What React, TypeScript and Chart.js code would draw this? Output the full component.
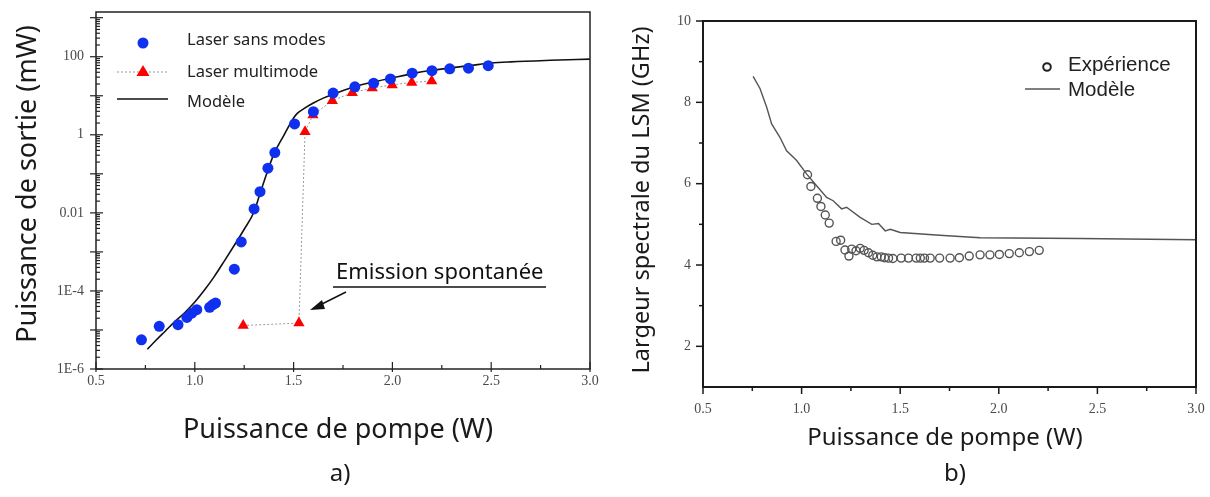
import React, { useEffect, useRef } from "react";
import { Chart, registerables } from "chart.js";
Chart.register(...registerables);

// ---------- Chart a) data ----------
const blueX = [0.73, 0.82, 0.915, 0.96, 0.985, 1.01, 1.075, 1.09, 1.105, 1.2, 1.235, 1.3, 1.33, 1.37, 1.405, 1.505, 1.6, 1.7, 1.81, 1.905, 1.99, 2.1, 2.2, 2.29, 2.385, 2.485];
const blueY = [5.6e-6, 1.24e-5, 1.37e-5, 2.1e-5, 2.7e-5, 3.3e-5, 3.8e-5, 4.4e-5, 4.9e-5, 3.6e-4, 1.8e-3, 0.0126, 0.035, 0.14, 0.35, 1.9, 3.9, 11.7, 17, 21, 27, 38, 44, 49, 51, 59];
const redX = [1.245, 1.527, 1.558, 1.598, 1.696, 1.797, 1.898, 1.999, 2.098, 2.199];
const redY = [1.3e-5, 1.5e-5, 1.2, 3.2, 7.5, 12, 15.8, 19, 22, 24];
const modelAX = [0.76, 0.8, 0.85, 0.9, 0.95, 1.0, 1.05, 1.1, 1.15, 1.2, 1.25, 1.3, 1.325, 1.35, 1.4, 1.45, 1.5, 1.52, 1.55, 1.6, 1.65, 1.7, 1.8, 1.9, 2.0, 2.1, 2.2, 2.3, 2.4, 2.5, 2.6, 2.8, 3.0];
const modelAY = [3.2e-6, 5.2e-6, 9.3e-6, 1.66e-5, 2.8e-5, 5.2e-5, 1.07e-4, 2.4e-4, 5.9e-4, 1.48e-3, 3.8e-3, 1.07e-2, 0.026, 0.063, 0.32, 0.95, 2.7, 3.6, 4.6, 6.5, 8.7, 11, 16.6, 22.4, 28.8, 37, 45, 52, 60, 69, 74, 81, 87];
const xTickValues = [0.5, 1.0, 1.5, 2.0, 2.5, 3.0];
const logTickValues = [1e-6, 1e-4, 0.01, 1, 100];
const logTickLabels = ["1E-6", "1E-4", "0.01", "1", "100"];

// ---------- Chart b) data ----------
const expX = [1.03, 1.047, 1.08, 1.098, 1.12, 1.14, 1.175, 1.198, 1.22, 1.24, 1.254, 1.276, 1.297, 1.317, 1.339, 1.361, 1.382, 1.404, 1.421, 1.441, 1.463, 1.505, 1.542, 1.581, 1.602, 1.623, 1.652, 1.7, 1.753, 1.8, 1.85, 1.905, 1.955, 2.003, 2.053, 2.104, 2.155, 2.205];
const expY = [6.22, 5.93, 5.64, 5.44, 5.23, 5.03, 4.58, 4.61, 4.37, 4.22, 4.39, 4.35, 4.41, 4.36, 4.3, 4.24, 4.2, 4.2, 4.18, 4.17, 4.16, 4.17, 4.17, 4.17, 4.17, 4.17, 4.17, 4.17, 4.17, 4.18, 4.22, 4.25, 4.25, 4.26, 4.28, 4.3, 4.33, 4.36];
const modelBX = [0.754, 0.789, 0.823, 0.848, 0.89, 0.924, 0.975, 1.025, 1.076, 1.127, 1.16, 1.203, 1.228, 1.297, 1.356, 1.39, 1.424, 1.45, 1.5, 1.7, 1.905, 2.41, 3.0];
const modelBY = [8.64, 8.34, 7.88, 7.47, 7.14, 6.81, 6.57, 6.24, 5.95, 5.66, 5.58, 5.38, 5.42, 5.17, 5.0, 5.02, 4.84, 4.88, 4.8, 4.73, 4.67, 4.65, 4.62];
const linTickValues = [2, 4, 6, 8, 10];

const zip = (xs: number[], ys: number[]) => xs.map((x, i) => ({ x, y: ys[i] }));

const SANS = '"Noto Sans", "DejaVu Sans", sans-serif';
const SERIF = '"Liberation Serif", "DejaVu Serif", serif';
const TICK_COLOR = "#4a4a4a";

function text(ctx: CanvasRenderingContext2D, s: string, x: number, y: number, font: string, color: string, align: CanvasTextAlign = "left", rot = 0) {
  ctx.save();
  ctx.translate(x, y);
  if (rot) ctx.rotate(rot);
  ctx.font = font;
  ctx.fillStyle = color;
  ctx.textAlign = align;
  ctx.textBaseline = "middle";
  ctx.fillText(s, 0, 0);
  ctx.restore();
}

function line(ctx: CanvasRenderingContext2D, x1: number, y1: number, x2: number, y2: number) {
  ctx.beginPath();
  ctx.moveTo(x1, y1);
  ctx.lineTo(x2, y2);
  ctx.stroke();
}

const zeroPad = (s: any) => {
  s.paddingTop = 0;
  s.paddingBottom = 0;
  s.paddingLeft = 0;
  s.paddingRight = 0;
};

const decorA = {
  id: "decorA",
  afterDraw(chart: any) {
    const ctx: CanvasRenderingContext2D = chart.ctx;
    const { left, right, top, bottom } = chart.chartArea;
    const xs = chart.scales.x;
    const ys = chart.scales.y;
    ctx.save();
    ctx.strokeStyle = "#222";
    ctx.lineWidth = 1.5;
    ctx.strokeRect(left, top, right - left, bottom - top);
    ctx.lineWidth = 1.2;
    for (let i = 0; i <= 10; i++) {
      const v = 0.5 + i * 0.25;
      const px = xs.getPixelForValue(v);
      const major = i % 2 === 0;
      line(ctx, px, bottom - (major ? 7 : 4), px, bottom + (major ? 3 : 0));
    }
    for (let e = -6; e <= 3; e++) {
      for (let k = 1; k <= 9; k++) {
        const v = k * Math.pow(10, e);
        if (v > ys.max * 1.0001 || v < ys.min * 0.9999) continue;
        const py = ys.getPixelForValue(v);
        if (k === 1) line(ctx, left - 6, py, left + 7, py);
        else line(ctx, left, py, left + 4, py);
      }
    }
    // titles
    text(ctx, "Puissance de sortie (mW)", 28, 184, `27px ${SANS}`, "#1a1a1a", "center", -Math.PI / 2);
    text(ctx, "Puissance de pompe (W)", 338, 430, `27px ${SANS}`, "#1a1a1a", "center");
    text(ctx, "a)", 340, 474, `24px ${SANS}`, "#1a1a1a", "center");
    // legend
    ctx.fillStyle = "#1030f0";
    ctx.beginPath();
    ctx.arc(143, 43, 5.5, 0, Math.PI * 2);
    ctx.fill();
    text(ctx, "Laser sans modes", 187, 40, `16.5px ${SANS}`, "#222");
    ctx.strokeStyle = "#9a9a9a";
    ctx.lineWidth = 1;
    ctx.setLineDash([2, 2]);
    line(ctx, 117, 72, 168, 72);
    ctx.setLineDash([]);
    ctx.fillStyle = "#f00";
    ctx.beginPath();
    ctx.moveTo(143, 65);
    ctx.lineTo(149.5, 76);
    ctx.lineTo(136.5, 76);
    ctx.closePath();
    ctx.fill();
    text(ctx, "Laser multimode", 187, 72, `16.5px ${SANS}`, "#222");
    ctx.strokeStyle = "#111";
    ctx.lineWidth = 1.6;
    line(ctx, 117, 99, 168, 99);
    text(ctx, "Modèle", 187, 102, `16.5px ${SANS}`, "#222");
    // annotation
    text(ctx, "Emission spontanée", 336, 273, `22px ${SANS}`, "#111");
    ctx.strokeStyle = "#111";
    ctx.lineWidth = 1.5;
    line(ctx, 333, 287, 546, 287);
    line(ctx, 346, 292, 318, 306);
    ctx.fillStyle = "#111";
    ctx.beginPath();
    ctx.moveTo(310, 310);
    ctx.lineTo(322, 300);
    ctx.lineTo(325, 309);
    ctx.closePath();
    ctx.fill();
    ctx.restore();
  },
};

const decorB = {
  id: "decorB",
  afterDraw(chart: any) {
    const ctx: CanvasRenderingContext2D = chart.ctx;
    const { left, right, top, bottom } = chart.chartArea;
    const xs = chart.scales.x;
    const ys = chart.scales.y;
    ctx.save();
    ctx.strokeStyle = "#1a1a1a";
    ctx.lineWidth = 2;
    ctx.strokeRect(left, top, right - left, bottom - top);
    ctx.lineWidth = 1.5;
    for (let i = 0; i <= 10; i++) {
      const v = 0.5 + i * 0.25;
      const px = xs.getPixelForValue(v);
      const major = i % 2 === 0;
      line(ctx, px, bottom, px, bottom + (major ? 7 : 4));
    }
    for (let v = 2; v <= 10; v++) {
      const py = ys.getPixelForValue(v);
      const major = v % 2 === 0;
      line(ctx, left - (major ? 7 : 4), py, left, py);
    }
    text(ctx, "Largeur spectrale du LSM (GHz)", 37, 200, `23.5px ${SANS}`, "#1a1a1a", "center", -Math.PI / 2);
    text(ctx, "Puissance de pompe (W)", 340, 438, `24px ${SANS}`, "#1a1a1a", "center");
    text(ctx, "b)", 350, 474, `24px ${SANS}`, "#1a1a1a", "center");
    // legend
    ctx.strokeStyle = "#222";
    ctx.lineWidth = 2;
    ctx.beginPath();
    ctx.arc(442, 67, 3.8, 0, Math.PI * 2);
    ctx.stroke();
    text(ctx, "Expérience", 463, 65, `20.5px "Liberation Sans", Arial, sans-serif`, "#222");
    ctx.strokeStyle = "#555";
    ctx.lineWidth = 1.5;
    line(ctx, 420, 89, 455, 89);
    text(ctx, "Modèle", 463, 90, `20.5px "Liberation Sans", Arial, sans-serif`, "#222");
    ctx.restore();
  },
};

function useChart(ref: React.RefObject<HTMLCanvasElement>, makeConfig: () => any) {
  useEffect(() => {
    if (!ref.current) return;
    const chart = new Chart(ref.current, makeConfig());
    return () => chart.destroy();
  }, []);
}

const configA = () => ({
  type: "scatter",
  data: {
    datasets: [
      {
        label: "Laser sans modes",
        data: zip(blueX, blueY),
        pointStyle: "circle",
        pointRadius: 5.5,
        backgroundColor: "#1030f0",
        borderColor: "#1030f0",
        borderWidth: 0,
        order: 1,
      },
      {
        label: "Laser multimode",
        data: zip(redX, redY),
        showLine: true,
        borderColor: "#9a9a9a",
        borderWidth: 1,
        borderDash: [2, 2],
        pointStyle: "triangle",
        pointRadius: 6.5,
        pointBackgroundColor: "#f00",
        pointBorderColor: "#f00",
        pointBorderWidth: 0,
        order: 2,
      },
      {
        label: "Modèle",
        data: zip(modelAX, modelAY),
        showLine: true,
        borderColor: "#111",
        borderWidth: 1.6,
        pointRadius: 0,
        cubicInterpolationMode: "monotone",
        order: 3,
      },
    ],
  },
  options: {
    animation: false,
    responsive: false,
    maintainAspectRatio: false,
    layout: { padding: { left: 0, top: 12, right: 15, bottom: 0 } },
    plugins: { legend: { display: false }, tooltip: { enabled: false } },
    scales: {
      x: {
        type: "linear",
        min: 0.5,
        max: 3.0,
        afterBuildTicks: (s: any) => {
          s.ticks = xTickValues.map((v) => ({ value: v }));
        },
        afterFit: (s: any) => {
          s.height = 128;
          zeroPad(s);
        },
        ticks: {
          autoSkip: false,
          maxRotation: 0,
          padding: 4,
          color: TICK_COLOR,
          font: { family: SERIF, size: 14 },
          callback: (v: number) => Number(v).toFixed(1),
        },
        grid: { display: false, drawTicks: false },
        border: { display: false },
      },
      y: {
        type: "logarithmic",
        min: 1e-6,
        max: 1400,
        afterBuildTicks: (s: any) => {
          s.ticks = logTickValues.map((v) => ({ value: v }));
        },
        afterFit: (s: any) => {
          s.width = 96;
          zeroPad(s);
        },
        ticks: {
          autoSkip: false,
          padding: 12,
          color: TICK_COLOR,
          font: { family: SERIF, size: 14 },
          callback: (v: number) => {
            const i = logTickValues.findIndex((t) => Math.abs(Math.log10(t) - Math.log10(v)) < 1e-6);
            return i >= 0 ? logTickLabels[i] : "";
          },
        },
        grid: { display: false, drawTicks: false },
        border: { display: false },
      },
    },
  },
  plugins: [decorA],
});

const configB = () => ({
  type: "scatter",
  data: {
    datasets: [
      {
        label: "Expérience",
        data: zip(expX, expY),
        pointStyle: "circle",
        pointRadius: 4,
        backgroundColor: "rgba(255,255,255,0)",
        borderColor: "#555",
        borderWidth: 1.4,
        order: 1,
      },
      {
        label: "Modèle",
        data: zip(modelBX, modelBY),
        showLine: true,
        borderColor: "#555",
        borderWidth: 1.4,
        pointRadius: 0,
        order: 2,
      },
    ],
  },
  options: {
    animation: false,
    responsive: false,
    maintainAspectRatio: false,
    layout: { padding: { left: 0, top: 21, right: 14, bottom: 0 } },
    plugins: { legend: { display: false }, tooltip: { enabled: false } },
    scales: {
      x: {
        type: "linear",
        min: 0.5,
        max: 3.0,
        afterBuildTicks: (s: any) => {
          s.ticks = xTickValues.map((v) => ({ value: v }));
        },
        afterFit: (s: any) => {
          s.height = 110;
          zeroPad(s);
        },
        ticks: {
          autoSkip: false,
          maxRotation: 0,
          padding: 14,
          color: TICK_COLOR,
          font: { family: SERIF, size: 14 },
          callback: (v: number) => Number(v).toFixed(1),
        },
        grid: { display: false, drawTicks: false },
        border: { display: false },
      },
      y: {
        type: "linear",
        min: 1,
        max: 10,
        afterBuildTicks: (s: any) => {
          s.ticks = linTickValues.map((v) => ({ value: v }));
        },
        afterFit: (s: any) => {
          s.width = 98;
          zeroPad(s);
        },
        ticks: {
          autoSkip: false,
          padding: 12,
          color: TICK_COLOR,
          font: { family: SERIF, size: 14 },
          callback: (v: number) => String(v),
        },
        grid: { display: false, drawTicks: false },
        border: { display: false },
      },
    },
  },
  plugins: [decorB],
});

export default function App() {
  const refA = useRef<HTMLCanvasElement>(null);
  const refB = useRef<HTMLCanvasElement>(null);
  useChart(refA, configA);
  useChart(refB, configB);
  return (
    <div style={{ position: "absolute", left: 0, top: 0, width: 1210, height: 497, background: "#fff" }}>
      <canvas ref={refA} width={605} height={497} style={{ position: "absolute", left: 0, top: 0, width: 605, height: 497 }} />
      <canvas ref={refB} width={605} height={497} style={{ position: "absolute", left: 605, top: 0, width: 605, height: 497 }} />
    </div>
  );
}
